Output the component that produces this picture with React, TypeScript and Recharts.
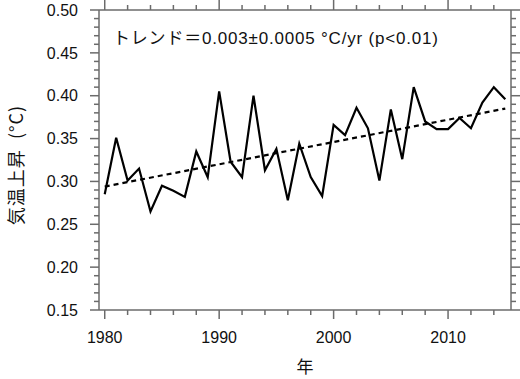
import React from "react";
import { Line, LineChart, XAxis, YAxis } from "recharts";

const years = [
  1980, 1981, 1982, 1983, 1984, 1985, 1986, 1987, 1988, 1989,
  1990, 1991, 1992, 1993, 1994, 1995, 1996, 1997, 1998, 1999,
  2000, 2001, 2002, 2003, 2004, 2005, 2006, 2007, 2008, 2009,
  2010, 2011, 2012, 2013, 2014, 2015,
];

const warming = [
  0.285, 0.351, 0.301, 0.315, 0.265, 0.295, 0.289, 0.282, 0.335, 0.305,
  0.405, 0.323, 0.305, 0.4, 0.313, 0.338, 0.278, 0.344, 0.305, 0.283,
  0.366, 0.354, 0.386, 0.362, 0.301, 0.384, 0.326, 0.41, 0.37, 0.361,
  0.361, 0.374, 0.362, 0.392, 0.41, 0.396,
];

// fitted trend, end points only
const trendYears = [1980, 2015];
const trendValues = [0.294, 0.385];

const xTicks = [
  1980, 1982, 1984, 1986, 1988, 1990, 1992, 1994, 1996, 1998,
  2000, 2002, 2004, 2006, 2008, 2010, 2012, 2014,
];
const xLabels = [1980, 1990, 2000, 2010];

const yTicks = [
  0.15, 0.16, 0.17, 0.18, 0.19, 0.2, 0.21, 0.22, 0.23, 0.24,
  0.25, 0.26, 0.27, 0.28, 0.29, 0.3, 0.31, 0.32, 0.33, 0.34,
  0.35, 0.36, 0.37, 0.38, 0.39, 0.4, 0.41, 0.42, 0.43, 0.44,
  0.45, 0.46, 0.47, 0.48, 0.49, 0.5,
];
const yLabels = [0.15, 0.2, 0.25, 0.3, 0.35, 0.4, 0.45, 0.5];

const seriesData = years.map((year, i) => ({ year, value: warming[i] }));
const trendData = trendYears.map((year, i) => ({ year, value: trendValues[i] }));

const FONT = '"Liberation Sans", Arial, "Noto Sans CJK JP", sans-serif';
const JP_FONT = '"Noto Sans CJK JP", "Liberation Sans", sans-serif';
const AXIS = "#6b6b6b";
const MAJOR = 9;
const MINOR = 5;

const isYLabel = (v: number) => yLabels.some((l) => Math.abs(l - v) < 1e-6);

function LeftTick({ x, y, payload }: any) {
  const major = isYLabel(payload.value);
  return (
    <g>
      <line x1={x} x2={x - (major ? MAJOR : MINOR)} y1={y} y2={y} stroke={AXIS} strokeWidth={1.5} />
      {major && (
        <text x={x - 21} y={y} dy="0.36em" textAnchor="end" fontSize={16} fontFamily={FONT} fill="#111">
          {payload.value.toFixed(2)}
        </text>
      )}
    </g>
  );
}

function RightTick({ x, y, payload }: any) {
  const major = isYLabel(payload.value);
  return <line x1={x} x2={x + (major ? MAJOR : MINOR)} y1={y} y2={y} stroke={AXIS} strokeWidth={1.5} />;
}

function BottomTick({ x, y, payload }: any) {
  const major = xLabels.includes(payload.value);
  return (
    <g>
      <line x1={x} x2={x} y1={y} y2={y + (major ? MAJOR : MINOR)} stroke={AXIS} strokeWidth={1.5} />
      {major && (
        <text x={x} y={y} dy={33} textAnchor="middle" fontSize={16} fontFamily={FONT} fill="#111">
          {payload.value}
        </text>
      )}
    </g>
  );
}

function TopTick({ x, y, payload }: any) {
  const major = xLabels.includes(payload.value);
  return <line x1={x} x2={x} y1={y} y2={y - (major ? MAJOR + 1 : MINOR)} stroke={AXIS} strokeWidth={1.5} />;
}

export default function App() {
  return (
    <div style={{ position: "absolute", left: 0, top: 0, background: "#fff" }}>
      <LineChart width={520} height={379} data={seriesData} margin={{ top: 0, right: 0, bottom: 0, left: 0 }}>
        <XAxis
          xAxisId="bottom"
          dataKey="year"
          type="number"
          domain={[1979.5, 2015.5]}
          allowDataOverflow
          ticks={xTicks}
          interval={0}
          height={69}
          tickSize={0}
          tickMargin={0}
          tickLine={false}
          tick={<BottomTick />}
          axisLine={{ stroke: AXIS, strokeWidth: 1.5 }}
          label={{
            content: ({ viewBox }: any) => (
              <text
                x={viewBox.x + viewBox.width / 2}
                y={viewBox.y + 63}
                textAnchor="middle"
                fontSize={17}
                fontFamily={JP_FONT}
                fill="#111"
              >
                年
              </text>
            ),
          }}
        />
        <XAxis
          xAxisId="top"
          orientation="top"
          dataKey="year"
          type="number"
          domain={[1979.5, 2015.5]}
          allowDataOverflow
          ticks={xTicks}
          interval={0}
          height={10}
          tickSize={0}
          tickMargin={0}
          tickLine={false}
          tick={<TopTick />}
          axisLine={{ stroke: AXIS, strokeWidth: 1.5 }}
          label={{
            content: ({ viewBox }: any) => (
              <text
                x={viewBox.x + 14}
                y={viewBox.y + 44}
                fontSize={17}
                letterSpacing={0.8}
                fontFamily={FONT}
                fill="#111"
              >
                <tspan fontFamily={JP_FONT}>トレンド＝</tspan>
                0.003±0.0005 °C/yr (p&lt;0.01)
              </text>
            ),
          }}
        />
        <YAxis
          yAxisId="left"
          type="number"
          domain={[0.15, 0.5]}
          allowDataOverflow
          ticks={yTicks}
          interval={0}
          width={99}
          tickSize={0}
          tickMargin={0}
          tickLine={false}
          tick={<LeftTick />}
          axisLine={{ stroke: AXIS, strokeWidth: 1.5 }}
          label={{
            content: ({ viewBox }: any) => {
              const cy = viewBox.y + viewBox.height / 2 + 5;
              return (
                <text
                  x={17}
                  y={cy}
                  transform={`rotate(-90, 17, ${cy})`}
                  textAnchor="middle"
                  dy="0.36em"
                  fontSize={18}
                  letterSpacing={1}
                  fontFamily={JP_FONT}
                  fill="#111"
                >
                  {"気温上昇\u00a0\u00a0(°C)"}
                </text>
              );
            },
          }}
        />
        <YAxis
          yAxisId="right"
          orientation="right"
          type="number"
          domain={[0.15, 0.5]}
          allowDataOverflow
          ticks={yTicks}
          interval={0}
          width={9}
          tickSize={0}
          tickMargin={0}
          tickLine={false}
          tick={<RightTick />}
          axisLine={{ stroke: AXIS, strokeWidth: 1.5 }}
        />
        <Line
          xAxisId="bottom"
          yAxisId="left"
          dataKey="value"
          stroke="#000"
          strokeWidth={2.2}
          dot={false}
          isAnimationActive={false}
        />
        <Line
          xAxisId="bottom"
          yAxisId="left"
          data={trendData}
          dataKey="value"
          stroke="#000"
          strokeWidth={2.2}
          strokeDasharray="5 4"
          dot={false}
          isAnimationActive={false}
        />
        <Line
          xAxisId="top"
          yAxisId="right"
          dataKey="value"
          stroke="none"
          dot={false}
          legendType="none"
          isAnimationActive={false}
        />
      </LineChart>
    </div>
  );
}
